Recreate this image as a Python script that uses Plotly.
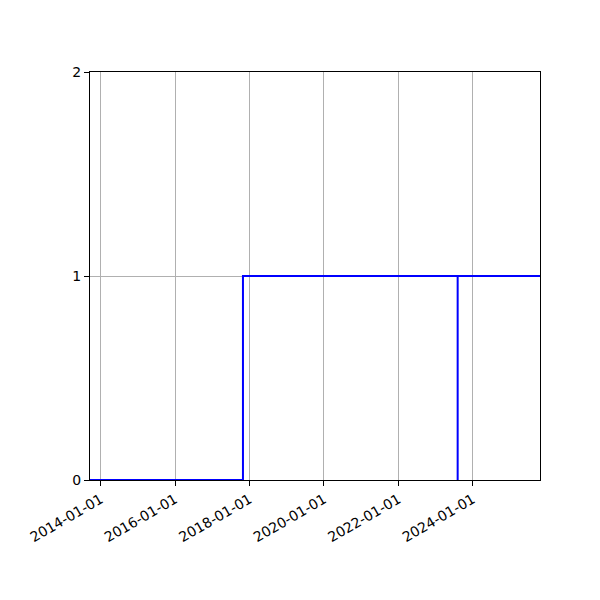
import plotly.graph_objects as go

# step series (post-step): value holds until next date
dates = ["2013-09-18", "2017-10-28", "2023-08-05", "2023-08-05", "2025-10-21"]
values = [0, 1, 0, 1, 1]

x_range = ["2013-09-18", "2025-10-21"]
x_ticks = ["2014-01-01", "2016-01-01", "2018-01-01", "2020-01-01", "2022-01-01", "2024-01-01"]
y_ticks = [0, 1, 2]

fig = go.Figure()
fig.add_trace(go.Scatter(x=dates, y=values, mode="lines", line_shape="hv",
                         line=dict(color="#0000ff", width=2), showlegend=False))

axis_style = dict(showline=True, linecolor="black", linewidth=1, mirror=True,
                  ticks="outside", ticklen=5, tickcolor="black",
                  showgrid=True, gridcolor="#b0b0b0", gridwidth=1, zeroline=False)

# page body has an 8px margin, so shift the plot area up/left to match
fig.update_layout(
    width=600, height=600,
    margin=dict(l=82, r=68, t=64, b=128),
    plot_bgcolor="white", paper_bgcolor="white",
    font=dict(family="DejaVu Sans", size=14, color="black"),
    xaxis=dict(type="date", range=x_range, tickvals=x_ticks, ticktext=x_ticks,
               tickangle=-30, **axis_style),
    yaxis=dict(range=[0, 2], tickvals=y_ticks, **axis_style),
)

fig.write_html("out.html")
